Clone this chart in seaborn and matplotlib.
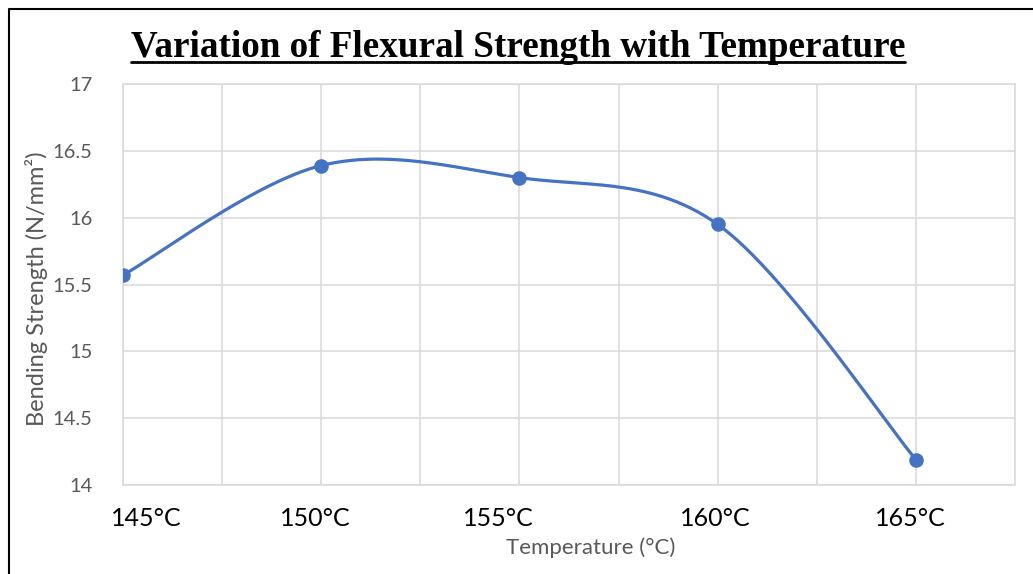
import numpy as np
import pandas as pd
import matplotlib
matplotlib.use("Agg")
import matplotlib.pyplot as plt
import matplotlib.transforms as mtransforms
from matplotlib.lines import Line2D
import seaborn as sns

# Data
temperatures = [145, 150, 155, 160, 165]
strength = [15.57, 16.39, 16.30, 15.95, 14.19]
x_tick_labels = ["145°C", "150°C", "155°C", "160°C", "165°C"]
y_ticks = [14, 14.5, 15, 15.5, 16, 16.5, 17]
y_tick_labels = ["14", "14.5", "15", "15.5", "16", "16.5", "17"]

title = "Variation of Flexural Strength with Temperature"
x_label = "Temperature (°C)"
y_label = "Bending Strength (N/mm²)"

# Horizontal nudges (in points) for the hand-placed category labels
label_nudges = [17, -4, -15, -2, -4]


def smooth_curve(xs, ys, n=60):
    """Cubic Bezier smoothing through every point (spreadsheet-style)."""
    p = np.column_stack([xs, ys]).astype(float)
    p_ext = np.vstack([p[0], p, p[-1]])
    out = []
    for i in range(len(p) - 1):
        p0, p1, p2, p3 = p_ext[i], p_ext[i + 1], p_ext[i + 2], p_ext[i + 3]
        c1 = p1 + (p2 - p0) / 6.0
        c2 = p2 - (p3 - p1) / 6.0
        t = np.linspace(0, 1, n)[:, None]
        seg = ((1 - t) ** 3) * p1 + 3 * ((1 - t) ** 2) * t * c1 + 3 * (1 - t) * t ** 2 * c2 + t ** 3 * p2
        out.append(seg if i == 0 else seg[1:])
    out = np.vstack(out)
    return out[:, 0], out[:, 1]


sns.set_theme(style="white")
plt.rcParams["font.family"] = ["Lato", "DejaVu Sans"]

fig = plt.figure(figsize=(10.33, 5.74), dpi=100)
ax = fig.add_axes([123 / 1033, 1 - 485 / 574, (1015 - 123) / 1033, (485 - 84) / 574])

sx, sy = smooth_curve(temperatures, strength)
curve = pd.DataFrame({"x": sx, "y": sy})
points = pd.DataFrame({"x": temperatures, "y": strength})

line_color = "#4472C4"
sns.lineplot(data=curve, x="x", y="y", ax=ax, color=line_color, linewidth=2.3,
             sort=False, estimator=None, zorder=3)
sns.scatterplot(data=points, x="x", y="y", ax=ax, color=line_color, s=110,
                edgecolor=line_color, linewidth=0, zorder=4)

ax.set_xlim(145, 167.5)
ax.set_ylim(14, 17)
ax.set_xticks(temperatures)
ax.set_xticklabels(x_tick_labels)
ax.set_xticks(np.arange(147.5, 167.6, 5), minor=True)
ax.xaxis.grid(True, which="both", color="#d9d9d9", linewidth=1.1)
ax.yaxis.grid(True, color="#d9d9d9", linewidth=1.1)
ax.tick_params(axis="x", which="both", length=0)
ax.tick_params(axis="x", which="major", labelsize=18, colors="black", pad=16)
for lbl, dx in zip(ax.get_xticklabels(), label_nudges):
    lbl.set_transform(lbl.get_transform() + mtransforms.ScaledTranslation(dx / 72, 0, fig.dpi_scale_trans))
ax.set_yticks(y_ticks)
ax.set_yticklabels(y_tick_labels)
ax.tick_params(axis="y", length=0, labelsize=14.5, colors="#595959", pad=22)

for side in ["top", "right", "left", "bottom"]:
    ax.spines[side].set_visible(True)
    ax.spines[side].set_color("#d9d9d9")
    ax.spines[side].set_linewidth(1.1)

ax.set_xlabel(x_label, fontsize=16, color="#595959")
ax.set_ylabel(y_label, fontsize=17, color="#595959")
ax.xaxis.set_label_coords((591 - 123) / 892, (485 - 537) / 401)
ax.yaxis.set_label_coords((48 - 123) / 892, (485 - 289) / 401)

# Title with underline
t = fig.text(518 / 1033, 1 - 57 / 574, title, ha="center", va="baseline",
             fontsize=26.7, fontweight="bold", family="Liberation Serif", color="black")
fig.canvas.draw()
bb = t.get_window_extent()
uy = 1 - 62 / 574
fig.add_artist(Line2D([bb.x0 / fig.bbox.width, bb.x1 / fig.bbox.width], [uy, uy],
                      transform=fig.transFigure, color="black", linewidth=2))

# Outer frame (left and top edges)
fig.add_artist(Line2D([9 / 1033, 9 / 1033, 1.0], [0.0, 1 - 9 / 574, 1 - 9 / 574],
                      transform=fig.transFigure, color="black", linewidth=1.5))

fig.savefig("out.png", dpi=100, facecolor="white")
